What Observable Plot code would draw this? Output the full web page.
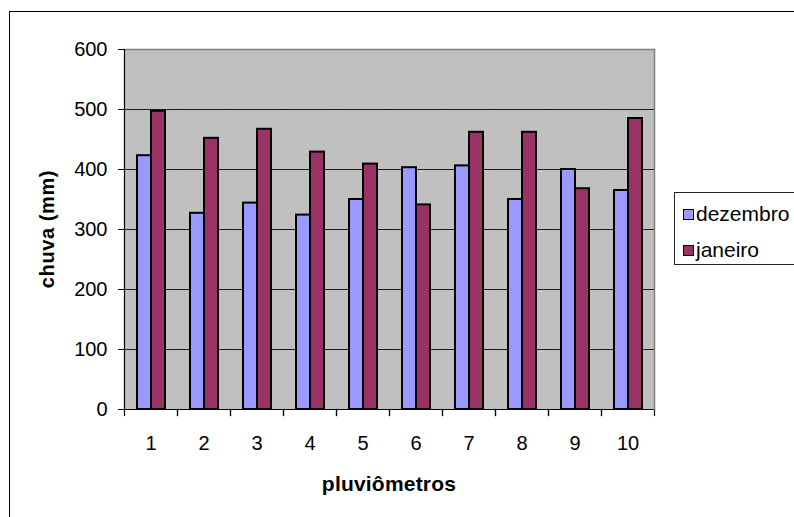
<!DOCTYPE html>
<html>
<head>
<meta charset="utf-8">
<script src="https://cdn.jsdelivr.net/npm/d3@7"></script>
<script src="https://cdn.jsdelivr.net/npm/@observablehq/plot@0.6"></script>
<style>
  html, body { margin: 0; padding: 0; background: #fff; overflow: hidden; }
  #wrap { position: relative; width: 794px; height: 517px; overflow: hidden; font-family: "Liberation Sans", Arial, sans-serif; color: #000; }
  #border { position: absolute; left: 9px; top: 11px; width: 820px; height: 540px; border: 1.5px solid #000; box-sizing: border-box; }
  #chart { position: absolute; left: 0; top: 0; }
  .ttl { position: absolute; font-weight: bold; font-size: 20px; white-space: nowrap; transform: translate(-50%, -50%); }
  #ytitle { left: 47px; top: 229px; transform: translate(-50%, -50%) rotate(-90deg); letter-spacing: 0.6px; }
  #xtitle { left: 389px; top: 484px; font-size: 21px; letter-spacing: 0.2px; }
  #legend { position: absolute; left: 674px; top: 192px; width: 140px; height: 73px; border: 1px solid #222; box-sizing: border-box; background: #fff; }
  .item { position: absolute; left: 8px; font-size: 21px; line-height: 21px; white-space: nowrap; }
  .sw { display: inline-block; width: 9px; height: 9px; border: 1px solid #000; margin-right: 2px; vertical-align: 1px; }
</style>
</head>
<body>
<div id="wrap">
  <div id="border"></div>
  <div id="chart"></div>
  <div class="ttl" id="ytitle"></div>
  <div class="ttl" id="xtitle"></div>
  <div id="legend"></div>
</div>
<script>
const pluviometros = [1, 2, 3, 4, 5, 6, 7, 8, 9, 10];
const dezembro = [423, 327, 344, 324, 350, 403, 406, 350, 400, 365];
const janeiro  = [497, 452, 467, 429, 409, 341, 462, 462, 368, 485];
const series = ["dezembro", "janeiro"];
const seriesColors = ["#9999ff", "#993366"];
const yTicks = [0, 100, 200, 300, 400, 500, 600];
const yTitle = "chuva (mm)";
const xTitle = "pluviômetros";

const data = pluviometros.flatMap((p, i) => [
  {p, serie: series[0], v: dezembro[i]},
  {p, serie: series[1], v: janeiro[i]}
]);

const W = 794, H = 517;
const mL = 121, mR = 137, mT = 49, mB = 108;
const plotH = H - mT - mB;

const chart = Plot.plot({
  width: W,
  height: H,
  marginLeft: mL,
  marginRight: mR,
  marginTop: mT,
  marginBottom: mB,
  fx: {domain: pluviometros, padding: 0, label: null, axis: null},
  x: {domain: series, paddingInner: 0, paddingOuter: 0.785, axis: null},
  y: {domain: [0, 600], label: null, axis: null},
  color: {domain: series, range: seriesColors},
  style: {fontFamily: "'Liberation Sans', Arial, sans-serif", fontSize: "20px", color: "#000", background: "transparent", overflow: "visible"},
  marks: [
    Plot.frame({fill: "#c0c0c0", stroke: null, facet: "super"}),
    Plot.gridY(yTicks.filter(t => t > 0 && t < 600), {stroke: "#000", strokeOpacity: 0.85, strokeWidth: 1, strokeLinecap: "square"}),
    Plot.frame({anchor: "top", stroke: "#808080", strokeWidth: 1.5, facet: "super"}),
    Plot.barY(data, {fx: "p", x: "serie", y: "v", fill: "serie", stroke: "#000", strokeWidth: 2}),
    Plot.frame({anchor: "bottom", stroke: "#000", strokeWidth: 1.2, facet: "super"}),
    Plot.frame({anchor: "left", stroke: "#000", strokeWidth: 1.2, insetTop: plotH, insetBottom: -6}),
    Plot.frame({anchor: "right", stroke: "#000", strokeWidth: 1.2, insetTop: plotH, insetBottom: -6}),
    Plot.frame({anchor: "left", stroke: "#000", strokeWidth: 1.2, facet: "super"}),
    Plot.frame({anchor: "right", stroke: "#808080", strokeWidth: 1.5, facet: "super"}),
    Plot.axisY({ticks: yTicks, tickSize: 6, tickPadding: 11, label: null, fontSize: 20, stroke: "#000"}),
    Plot.axisFx({anchor: "bottom", tickSize: 0, tickPadding: 26, label: null, fontSize: 20})
  ]
});
document.getElementById("chart").appendChild(chart);
document.getElementById("ytitle").textContent = yTitle;
document.getElementById("xtitle").textContent = xTitle;

const legend = document.getElementById("legend");
series.forEach((s, i) => {
  const it = document.createElement("div");
  it.className = "item";
  it.style.top = (i === 0 ? 10 : 46) + "px";
  const sw = document.createElement("span");
  sw.className = "sw";
  sw.style.background = seriesColors[i];
  it.appendChild(sw);
  it.appendChild(document.createTextNode(s));
  legend.appendChild(it);
});
</script>
</body>
</html>
